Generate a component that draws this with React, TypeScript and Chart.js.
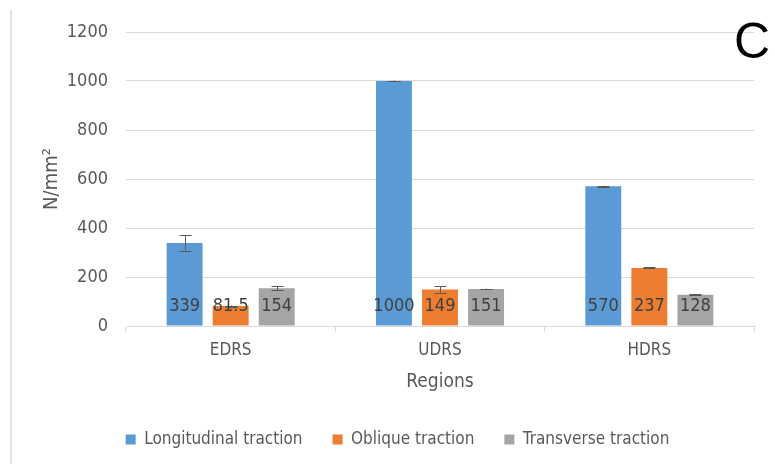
import { useEffect, useRef } from "react";
import { Chart, registerables } from "chart.js";

Chart.register(...registerables);

const categories = ["EDRS", "UDRS", "HDRS"];
const seriesNames = ["Longitudinal traction", "Oblique traction", "Transverse traction"];
const longitudinal = [339, 1000, 570];
const oblique = [81.5, 149, 237];
const transverse = [154, 151, 128];
const longitudinalErr = [31, 2, 3];
const obliqueErr = [2, 13, 2];
const transverseErr = [8, 2, 2];
const seriesColors = ["#5B9BD5", "#ED7D31", "#A5A5A5"];
const yMin = 0;
const yMax = 1200;
const yStep = 200;
const yTitle = "N/mm\u00B2";
const xTitle = "Regions";
const panelLetter = "C";

const FONT = "'Liberation Sans Narrow', 'DejaVu Sans Condensed', 'Roboto', sans-serif";

export default function App() {
  const ref = useRef<HTMLCanvasElement | null>(null);

  useEffect(() => {
    document.body.style.margin = "0";
    const canvas = ref.current;
    if (!canvas) return;
    Chart.defaults.font.family = FONT;

    const values = [longitudinal, oblique, transverse];
    const errors = [longitudinalErr, obliqueErr, transverseErr];

    const decorPlugin = {
      id: "decor",
      beforeDraw(chart: any) {
        const ctx = chart.ctx;
        ctx.save();
        ctx.strokeStyle = "#d9d9d9";
        ctx.lineWidth = 1.5;
        ctx.beginPath();
        ctx.moveTo(11, 10);
        ctx.lineTo(11, 464);
        ctx.stroke();
        ctx.restore();
      },
      afterLayout(chart: any) {
        if (chart.legend) {
          chart.legend.left = 20;
          chart.legend.right = 775;
        }
      },
      afterDatasetsDraw(chart: any) {
        const ctx = chart.ctx;
        const y = chart.scales.y;
        ctx.save();
        // error bars
        ctx.strokeStyle = "#595959";
        ctx.lineWidth = 1;
        values.forEach((arr, i) => {
          const meta = chart.getDatasetMeta(i);
          meta.data.forEach((bar: any, j: number) => {
            const v = arr[j];
            const e = errors[i][j];
            const yt = y.getPixelForValue(v + e);
            const yb = y.getPixelForValue(v - e);
            const x = Math.round(bar.x) + 0.5;
            ctx.beginPath();
            ctx.moveTo(x, yt);
            ctx.lineTo(x, yb);
            ctx.moveTo(x - 6, Math.round(yt) + 0.5);
            ctx.lineTo(x + 6, Math.round(yt) + 0.5);
            ctx.moveTo(x - 6, Math.round(yb) + 0.5);
            ctx.lineTo(x + 6, Math.round(yb) + 0.5);
            ctx.stroke();
          });
        });
        // value labels
        ctx.fillStyle = "#404040";
        ctx.font = `18px ${FONT}`;
        ctx.textAlign = "center";
        ctx.textBaseline = "middle";
        const base = y.getPixelForValue(0);
        values.forEach((arr, i) => {
          const meta = chart.getDatasetMeta(i);
          meta.data.forEach((bar: any, j: number) => {
            ctx.fillText(String(arr[j]), bar.x, base - 20);
          });
        });
        ctx.restore();
      },
      afterDraw(chart: any) {
        const ctx = chart.ctx;
        ctx.save();
        ctx.fillStyle = "#000000";
        ctx.font = "50px 'Liberation Sans', Arial, sans-serif";
        ctx.textAlign = "center";
        ctx.textBaseline = "middle";
        ctx.fillText(panelLetter, 752, 44);
        ctx.restore();
      },
    };

    const chart = new Chart(canvas, {
      type: "bar",
      data: {
        labels: categories,
        datasets: seriesNames.map((name, i) => ({
          label: name,
          data: values[i],
          backgroundColor: seriesColors[i],
          borderWidth: 0,
          categoryPercentage: 0.66,
          barPercentage: 0.78,
        })),
      },
      options: {
        responsive: false,
        animation: false,
        layout: { padding: { left: 0, right: 21, top: 32, bottom: 6 } },
        plugins: {
          tooltip: { enabled: false },
          legend: {
            position: "bottom",
            align: "center",
            labels: {
              boxWidth: 10,
              boxHeight: 10,
              padding: 30,
              color: "#595959",
              font: { size: 17, family: FONT },
            },
          },
        },
        scales: {
          x: {
            afterFit: (s: any) => {
              s.height = 75;
            },
            grid: {
              drawOnChartArea: false,
              color: "#d9d9d9",
              tickLength: 6,
              offset: true,
            },
            border: { color: "#d9d9d9" },
            ticks: { color: "#595959", padding: 8, font: { size: 17, family: FONT } },
            title: {
              display: true,
              text: xTitle,
              color: "#595959",
              font: { size: 19, family: FONT },
              padding: { top: 0, bottom: 8 },
            },
          },
          y: {
            min: yMin,
            max: yMax,
            afterFit: (s: any) => {
              s.width = 126;
            },
            ticks: {
              stepSize: yStep,
              color: "#595959",
              padding: 18,
              font: { size: 18, family: FONT },
              callback: (v: any) => String(v),
            },
            grid: { color: "#d9d9d9", drawTicks: false },
            border: { display: false },
            title: {
              display: true,
              text: yTitle,
              color: "#595959",
              font: { size: 20, family: FONT },
              padding: { top: 40, bottom: 0 },
            },
          },
        },
      },
      plugins: [decorPlugin],
    });

    return () => chart.destroy();
  }, []);

  return <canvas ref={ref} width={775} height={464} style={{ display: "block" }} />;
}
